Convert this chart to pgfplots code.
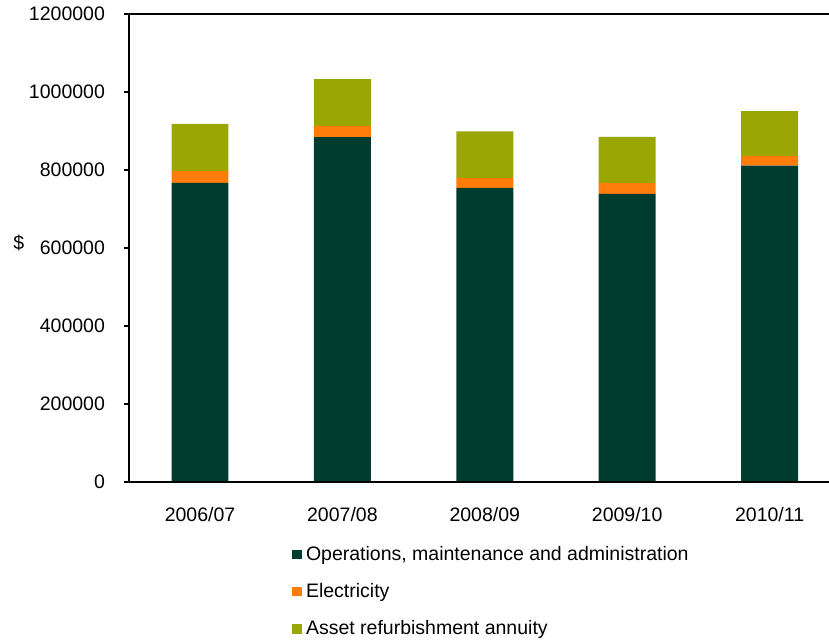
\documentclass[border=0pt]{standalone}
\usepackage{fontspec}
\setmainfont{Liberation Sans}
\usepackage{pgfplots}
\pgfplotsset{compat=1.18}

\definecolor{opsgreen}{RGB}{1,60,49}
\definecolor{elecorange}{RGB}{255,124,10}
\definecolor{assetolive}{RGB}{153,166,4}

\pgfplotsset{
  sqleg/.style={legend image code/.code={\fill[##1] (0pt,-2.4pt) rectangle (4.8pt,2.4pt);}},
}

\begin{document}
\fontsize{9.75}{11.7}\selectfont
\begin{tikzpicture}
\begin{axis}[
  name=ax,
  width=356pt, height=234pt, scale only axis,
  ybar stacked, bar width=0.4,
  xmin=-0.5, xmax=4.5, ymin=0, ymax=1200000,
  xtick={0,1,2,3,4},
  xticklabels={2006/07,2007/08,2008/09,2009/10,2010/11},
  ytick={0,200000,400000,600000,800000,1000000,1200000},
  scaled y ticks=false,
  yticklabel style={/pgf/number format/fixed,/pgf/number format/1000 sep={},
    /pgf/number format/assume math mode=true, xshift=-6pt},
  xticklabel style={yshift=-6.5pt},
  axis x line=box, axis y line=left,
  axis line style={-, line width=1pt, black},
  xtick style={draw=none},
  ytick style={line width=0.8pt, black},
  tick align=outside,
  major tick length=2.5pt,
  axis on top,
  ylabel={\$},
  ylabel style={rotate=-90, at={(axis description cs:-0.1545,0.511)}, anchor=center},
  legend style={at={(axis description cs:0.2208,-0.119)}, anchor=north west,
    draw=none, fill=none, row sep=6pt, font=\fontsize{9.75}{11.7}\selectfont,
    /tikz/every even column/.append style={column sep=0pt}},
  legend cell align=left,
]
\addplot[fill=opsgreen, draw=none, sqleg] coordinates
  {(0,767000) (1,884000) (2,754000) (3,739000) (4,811000)};
\addplot[fill=elecorange, draw=none, sqleg] coordinates
  {(0,30000) (1,29000) (2,25000) (3,28000) (4,25000)};
\addplot[fill=assetolive, draw=none, sqleg] coordinates
  {(0,121000) (1,120000) (2,120000) (3,118000) (4,115000)};
\legend{{Operations, maintenance and administration}, Electricity, Asset refurbishment annuity}
\end{axis}
\pgfresetboundingbox
\path[use as bounding box] ([shift={(-64.4pt,-78.5pt)}]ax.south west)
  rectangle ([shift={(350.1pt,7pt)}]ax.north west);
\end{tikzpicture}
\end{document}
